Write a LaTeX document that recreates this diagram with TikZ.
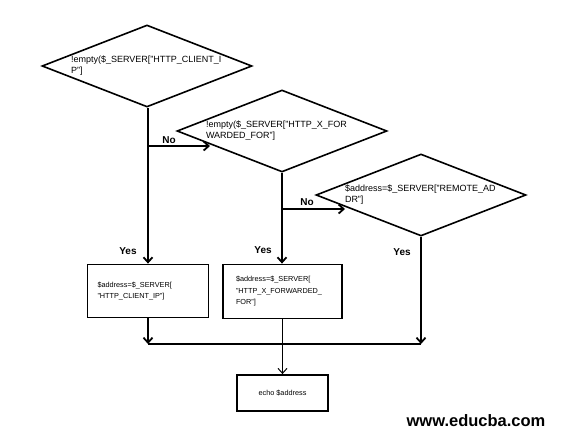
\documentclass[tikz,border=0pt]{standalone}
\usepackage{fontspec}
\setmainfont{Liberation Sans}
\usetikzlibrary{shapes.geometric,arrows.meta}

\tikzset{
  decision/.style={diamond, draw, line width=1.6pt, inner sep=0pt, aspect=2.5,
    minimum width=210pt, minimum height=82pt, align=left, text width=152pt,
    font=\fontsize{9}{11}\selectfont},
  process/.style={rectangle, draw, line width=1.8pt, align=left,
    font=\fontsize{7.3}{11.5}\selectfont},
  answer/.style={font=\fontsize{10}{12}\selectfont\bfseries},
  flow/.style={line width=1.8pt, -{Straight Barb[length=5pt,width=9pt]}}
}

\begin{document}
\begin{tikzpicture}[x=1pt, y=-1pt]
    \useasboundingbox (0,0) rectangle (566,444);

    % draw decisions
    \node[decision] (d1) at (147,66) {!empty(\$\_SERVER["HTTP\_CLIENT\_I\\P"]};
    \node[decision] (d2) at (282,131) {!empty(\$\_SERVER["HTTP\_X\_FOR\\WARDED\_FOR"]};
    \node[decision] (d3) at (421,195) {\$address=\$\_SERVER["REMOTE\_AD\\DR"]};

    % draw boxes
    \node[process, text width=101pt, inner xsep=10pt, minimum height=53pt] (b1) at (148,291)
      {\$address=\$\_SERVER[\\"HTTP\_CLIENT\_IP"]};
    \node[process, text width=93pt, inner xsep=13pt, minimum height=54pt] (b2) at (282.5,291.5)
      {\$address=\$\_SERVER[\\"HTTP\_X\_FORWARDED\_\\FOR"]};
    \node[process, align=center, minimum width=91pt, minimum height=36pt] (echo) at (282.5,393)
      {echo \$address};

    % draw branch points
    \coordinate (j1) at (148,146);
    \coordinate (n1) at (210,146);
    \coordinate (j2) at (282,209);
    \coordinate (n2) at (345,209);
    \coordinate (m1) at (148,344);
    \coordinate (m3) at (421,344);

    % draw connectors
    \draw[flow] (d1.south -| b1.north) -- (b1.north);
    \draw[flow] (j1) -- (n1);
    \draw[flow] (d2.south) -- (d2.south |- b2.north);
    \draw[flow] (j2) -- (n2);
    \draw[flow] (d3.south) -- (m3);
    \draw[flow] (b1.south) -- (m1);
    \draw[line width=1.8pt] (m1) -- (m3);
    \draw[flow, line width=1pt] (b2.south) -- (echo.north);

    % draw labels
    \node[answer] (no1) at (169,140) {No};
    \node[answer] (no2) at (307,202) {No};
    \node[answer] (yes1) at (128,251) {Yes};
    \node[answer] (yes2) at (263,250) {Yes};
    \node[answer] (yes3) at (402,252) {Yes};

    \node[font=\fontsize{16.5}{18}\selectfont\bfseries] (site) at (476,421) {www.educba.com};
\end{tikzpicture}
\end{document}
